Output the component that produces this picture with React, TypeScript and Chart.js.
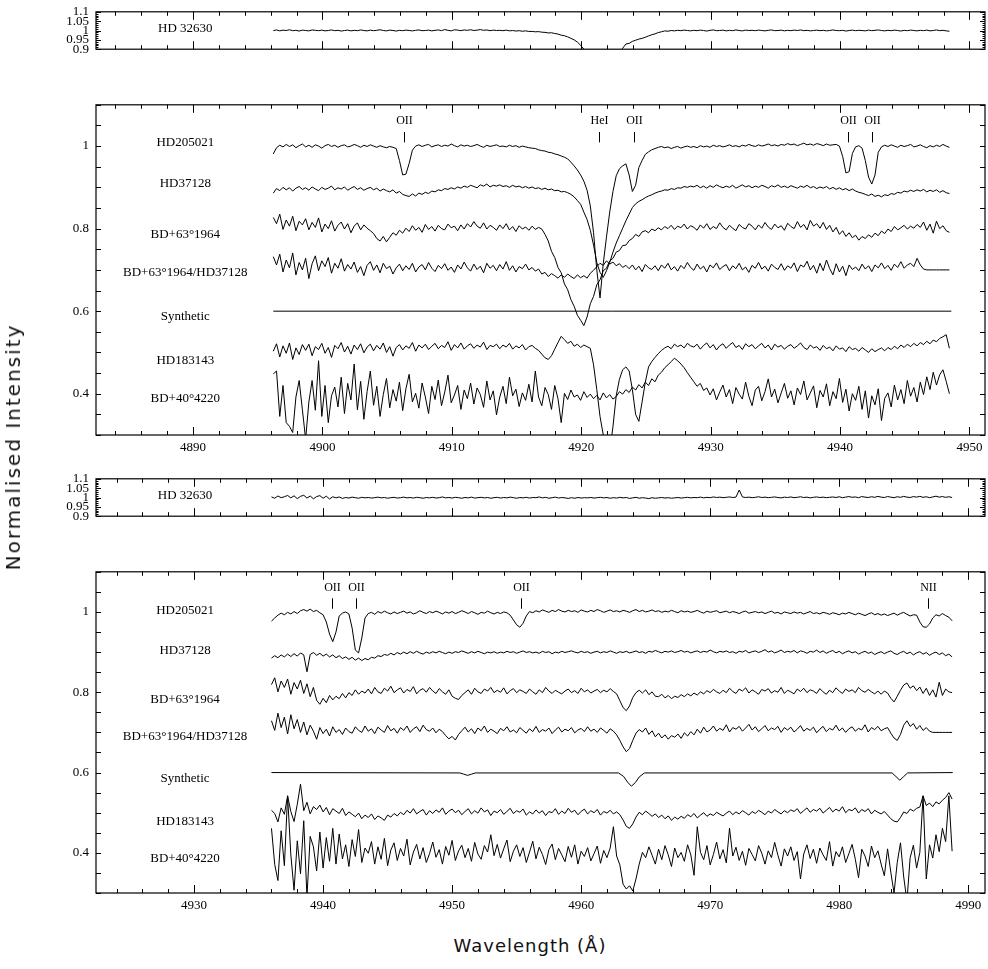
import React, { useEffect, useRef } from 'react';
import { Chart, registerables } from 'chart.js';

Chart.register(...registerables);

// ---------- wavelength grids (Å) ----------
const WL_A0 = 4896.2; // first sample of the upper pair of panels
const WL_B0 = 4936.0; // first sample of the lower pair of panels
const WL_STEP = 0.25;

// ---------- tick labels ----------
const Y_TICKS_SMALL = [0.9, 0.95, 1, 1.05, 1.1];
const Y_TICKS_BIG = [0.4, 0.6, 0.8, 1];
const X_TICKS_A = [4890, 4900, 4910, 4920, 4930, 4940, 4950];
const X_TICKS_B = [4930, 4940, 4950, 4960, 4970, 4980, 4990];

const STAR_NAMES = ['HD205021', 'HD37128', 'BD+63\u00b01964', 'BD+63\u00b01964/HD37128', 'Synthetic', 'HD183143', 'BD+40\u00b04220'];

// line identifications
const MARKS_A_WL = [4906.3, 4921.4, 4924.05, 4940.6, 4942.5];
const MARKS_A_TXT = ['OII', 'HeI', 'OII', 'OII', 'OII'];
const MARKS_B_WL = [4940.7, 4942.55, 4955.3, 4986.9];
const MARKS_B_TXT = ['OII', 'OII', 'OII', 'NII'];

// ---------- spectra (normalised intensity x1000, as plotted) ----------
const P1_HD32630 = [
  999, 1003, 998, 1002, 1000, 1004, 999, 1001, 997, 1002,
  1000, 998, 1003, 1001, 999, 1002, 998, 1000, 1003, 999,
  1001, 997, 1000, 1002, 998, 1001, 999, 1003, 1000, 998,
  1002, 999, 1001, 1004, 1000, 998, 1002, 1000, 997, 1001,
  999, 1002, 1000, 998, 1001, 1003, 999, 1000, 1002, 998,
  1001, 1003, 999, 1005, 1001, 998, 1004, 1002, 999, 1003,
  1001, 1004, 1000, 1002, 1005, 1001, 1003, 999, 1002, 1000,
  1001, 999, 1002, 998, 1000, 997, 999, 996, 998, 995,
  995, 993, 994, 991, 990, 987, 988, 984, 981, 975,
  972, 966, 958, 950, 938, 921, 900, 870, 840, 810,
  790, 780, 780, 790, 810, 830, 855, 882, 905, 928,
  931, 942, 948, 954, 958, 964, 971, 977, 982, 989,
  993, 998, 996, 1000, 998, 1001, 999, 1002, 1000, 998,
  1001, 999, 1002, 1000, 997, 1001, 1003, 999, 1000, 1002,
  998, 1001, 999, 1003, 1000, 998, 1002, 1000, 1001, 999,
  1002, 1000, 998, 1001, 1003, 999, 1000, 1002, 998, 1001,
  999, 1002, 1000, 1003, 999, 1001, 998, 1000, 1002, 999,
  1001, 998, 1000, 1003, 1000, 999, 1001, 997, 1000, 1002,
  999, 1001, 1000, 998, 1002, 999, 1001, 1003, 1000, 998,
  1001, 999, 1002, 1000, 997, 1001, 999, 1002, 1000, 998,
  1001, 999, 1002, 998, 1000, 1003, 999, 1001, 998, 996,
];

const P2_HD205021 = [
  981, 996, 1002, 998, 1004, 999, 1003, 996, 1001, 1005,
  998, 1002, 997, 1003, 1000, 995, 1001, 1004, 999, 1002,
  997, 1001, 1003, 998, 1000, 1004, 1001, 997, 1002, 999,
  1003, 1000, 997, 1001, 998, 996, 999, 997, 994, 965,
  930, 932, 958, 990, 1000, 1003, 999, 1002, 1004, 998,
  1001, 1003, 999, 1002, 1000, 1005, 1001, 998, 1003, 1000,
  1002, 999, 1001, 1004, 1000, 997, 1002, 999, 1001, 1003,
  999, 1000, 998, 1002, 999, 1001, 997, 1000, 998, 996,
  995, 994, 991, 989, 988, 985, 984, 981, 979, 976,
  973, 969, 961, 952, 942, 930, 915, 893, 855, 790,
  700, 632, 715, 780, 840, 890, 928, 945, 952, 957,
  930, 890, 905, 948, 965, 980, 986, 991, 994, 997,
  999, 996, 998, 994, 997, 999, 995, 998, 1000, 997,
  999, 996, 1001, 998, 1000, 997, 1002, 999, 1001, 998,
  1000, 1003, 999, 1001, 998, 1002, 1000, 1004, 1001, 999,
  1003, 1000, 1002, 1005, 1001, 1003, 1000, 1004, 1002, 1006,
  1003, 1005, 1001, 1004, 1007, 1003, 1005, 1002, 1006, 1004,
  1001, 1005, 1002, 1003, 1004, 1000, 975, 935, 938, 982,
  998, 1001, 995, 965, 925, 908, 930, 985, 998, 1002,
  999, 1003, 1000, 997, 1002, 999, 1001, 1004, 998, 1000,
  1003, 999, 996, 1001, 998, 1002, 999, 1004, 1000, 997,
];

const P2_HD37128 = [
  886, 897, 892, 900, 894, 899, 891, 898, 902, 895,
  899, 893, 901, 896, 892, 900, 895, 898, 903, 894,
  899, 896, 901, 893, 898, 902, 895, 899, 893, 897,
  900, 894, 898, 891, 896, 892, 889, 894, 886, 890,
  883, 880, 878, 884, 879, 886, 883, 888, 885, 891,
  889, 894, 892, 897, 895, 899, 896, 901, 898, 903,
  900, 905, 902, 899, 906, 903, 908, 901, 905, 903,
  906, 902, 904, 900, 905, 901, 903, 899, 902, 898,
  901, 897, 899, 895, 898, 894, 896, 892, 893, 889,
  890, 887, 883, 877, 868, 859, 840, 822, 796, 760,
  718, 694, 682, 698, 718, 743, 765, 783, 801, 819,
  835, 851, 860, 866, 870, 875, 879, 882, 886, 889,
  891, 894, 893, 897, 895, 899, 898, 902, 900, 903,
  901, 905, 899, 903, 898, 904, 900, 906, 902, 899,
  903, 900, 905, 898, 902, 906, 901, 904, 899, 903,
  900, 905, 902, 898, 904, 901, 906, 900, 903, 899,
  904, 901, 898, 903, 900, 905, 899, 902, 897, 901,
  898, 902, 896, 900, 895, 899, 894, 897, 892, 896,
  891, 888, 886, 883, 880, 884, 878, 881, 877, 882,
  880, 885, 883, 888, 886, 891, 889, 893, 890, 894,
  891, 895, 889, 893, 890, 894, 888, 892, 887, 885,
];

const P2_BD63 = [
  827, 812, 835, 798, 821, 806, 830, 795, 818, 809,
  824, 797, 815, 803, 826, 792, 811, 800, 819, 794,
  808, 816, 799, 812, 790, 806, 814, 797, 809, 801,
  795, 788, 776, 770, 781, 768, 779, 790, 784, 796,
  789, 801, 793, 807, 796, 803, 791, 810, 798, 805,
  794, 808, 800, 797, 811, 802, 806, 795, 809, 799,
  812, 804, 817, 806, 801, 814, 799, 808, 803, 796,
  809, 800, 812, 797, 805, 793, 807, 799, 804, 796,
  806, 798, 803, 799, 786, 770, 745, 730, 706, 693,
  666, 652, 628, 612, 590, 578, 565, 586, 618, 636,
  664, 676, 698, 704, 722, 728, 743, 747, 759, 760,
  771, 776, 786, 781, 792, 795, 790, 799, 795, 802,
  797, 805, 800, 808, 798, 806, 802, 811, 799, 807,
  803, 796, 809, 801, 812, 798, 805, 800, 814, 803,
  797, 808, 801, 795, 810, 803, 799, 812, 806, 797,
  809, 801, 815, 804, 798, 811, 802, 807, 796, 813,
  805, 800, 817, 803, 810, 797, 820, 806, 812, 801,
  815, 798, 808, 792, 803, 786, 795, 781, 790, 778,
  784, 772, 781, 776, 785, 779, 789, 783, 794, 788,
  799, 793, 805, 797, 802, 808, 799, 806, 801, 810,
  803, 816, 796, 811, 789, 818, 800, 807, 795, 791,
];

const P2_RATIO = [
  732, 712, 738, 695, 724, 705, 741, 688, 718, 700,
  728, 679, 715, 734, 698, 722, 708, 730, 692, 716,
  704, 727, 697, 713, 702, 719, 694, 708, 686, 711,
  720, 699, 712, 693, 716, 703, 709, 690, 705, 714,
  698, 710, 701, 716, 695, 707, 713, 700, 718, 704,
  696, 711, 703, 715, 699, 707, 694, 712, 702, 719,
  705, 697, 714, 701, 709, 693, 716, 704, 711, 698,
  713, 702, 720, 699, 710, 695, 708, 703, 714, 700,
  706, 697, 702, 690, 694, 684, 691, 686, 680, 688,
  682, 690, 684, 679, 688, 681, 686, 680, 692, 699,
  708, 716, 711, 722, 714, 719, 710, 715, 706, 711,
  703, 712, 700, 709, 696, 713, 705, 701, 710, 698,
  712, 704, 716, 700, 708, 697, 711, 703, 718, 706,
  699, 714, 702, 709, 695, 712, 705, 717, 701, 708,
  713, 698, 710, 703, 716, 700, 707, 694, 711, 704,
  718, 702, 709, 697, 714, 706, 701, 715, 699, 710,
  704, 717, 696, 712, 707, 721, 700, 711, 692, 716,
  698, 724, 703, 688, 715, 695, 709, 686, 712, 701,
  707, 698, 714, 702, 710, 696, 712, 705, 717, 703,
  711, 699, 714, 706, 720, 704, 712, 716, 708, 728,
  712, 702, 700, 700, 700, 700, 700, 700, 700, 700,
];

const P2_SYN_WL = [4896.2, 4948.6];
const P2_SYN = [600, 600];

const P2_HD183143 = [
  503, 521, 489, 516, 498, 523, 483, 511, 495, 519,
  505, 520, 492, 514, 507, 522, 498, 512, 488, 517,
  509, 524, 501, 515, 496, 518, 507, 521, 499, 513,
  520, 504, 517, 508, 523, 500, 514, 491, 512, 519,
  506, 516, 510, 524, 503, 518, 511, 520, 507, 515,
  522, 509, 517, 512, 526, 505, 519, 511, 523, 508,
  516, 521, 510, 518, 513, 525, 507, 517, 514, 520,
  509, 518, 513, 522, 508, 516, 511, 519, 506, 514,
  517, 510, 505, 496, 487, 483, 492, 508, 524, 539,
  531, 522, 527, 515, 520, 512, 518, 514, 510, 470,
  410, 345, 300, 268, 262, 320, 395, 435, 458, 465,
  455, 410, 350, 333, 380, 428, 465, 478, 488, 497,
  505, 511, 515, 509, 520, 514, 518, 511, 522, 516,
  513, 520, 508, 517, 523, 511, 519, 506, 516, 521,
  510, 518, 524, 512, 517, 507, 521, 514, 519, 509,
  516, 522, 511, 518, 506, 520, 513, 517, 508, 515,
  519, 510, 516, 523, 512, 507, 518, 511, 514, 505,
  517, 509, 513, 504, 516, 508, 511, 502, 514, 507,
  510, 503, 512, 506, 500, 509, 502, 507, 511, 504,
  512, 507, 515, 509, 518, 512, 520, 514, 522, 516,
  524, 519, 527, 521, 530, 526, 534, 538, 543, 510,
];

const P2_BD40 = [
  448, 455, 345, 420, 330, 321, 306, 392, 432, 361,
  290, 380, 432, 360, 480, 345, 420, 330, 395, 416,
  368, 440, 352, 425, 385, 472, 361, 430, 338, 405,
  455, 372, 418, 345, 398, 437, 366, 410, 382, 428,
  359, 412, 447, 380, 401, 365, 426, 392, 352, 418,
  386, 433, 371, 404, 445, 378, 397, 420, 362, 409,
  388, 426, 375, 414, 398, 367, 431, 385, 407, 349,
  392, 418, 376, 440, 395, 411, 369, 402, 384, 423,
  380, 455, 392, 371, 415, 398, 362, 420, 388, 330,
  401, 386, 409, 392, 397, 384, 405, 391, 399, 388,
  396, 385, 402, 390, 398, 387, 393, 405, 399, 410,
  403, 416, 409, 422, 414, 428, 420, 436, 429, 445,
  452, 463, 470, 478, 486, 480, 472, 463, 451, 440,
  429, 418, 425, 408, 414, 397, 412, 385, 404, 421,
  392, 410, 376, 415, 399, 387, 428, 394, 371, 409,
  418, 383, 405, 436, 392, 411, 378, 402, 425, 389,
  407, 373, 414, 398, 431, 385, 402, 419, 366, 408,
  392, 424, 371, 405, 388, 437, 379, 411, 358, 400,
  384, 418, 362, 407, 341, 395, 373, 412, 335, 389,
  402, 368, 421, 385, 410, 376, 432, 394, 415, 380,
  428, 398, 441, 410, 452, 421, 446, 458, 430, 400,
];

const P3_HD32630 = [
  1003, 996, 1008, 999, 1004, 1011, 998, 1009, 994, 1006,
  1012, 997, 1008, 993, 1005, 1010, 996, 1007, 992, 1004,
  998, 1003, 995, 1000, 997, 1002, 999, 996, 1001, 998,
  1000, 997, 999, 1002, 998, 1000, 996, 999, 1001, 997,
  999, 1002, 998, 1000, 997, 1001, 999, 996, 1000, 998,
  1001, 997, 999, 1003, 998, 1000, 997, 1001, 999, 996,
  1000, 998, 1002, 997, 999, 1001, 998, 1000, 996, 999,
  1001, 997, 1000, 998, 1002, 999, 996, 1000, 998, 1001,
  997, 1000, 999, 1003, 998, 1001, 996, 999, 1002, 997,
  1000, 998, 995, 999, 996, 1000, 997, 999, 998, 1000,
  997, 999, 1001, 998, 1000, 996, 999, 997, 1001, 998,
  1000, 995, 998, 1001, 996, 999, 997, 994, 999, 996,
  998, 1000, 997, 999, 996, 998, 1000, 997, 999, 1001,
  998, 1000, 999, 1002, 998, 1001, 999, 1003, 1000, 1002,
  999, 1001, 1003, 1000, 1002, 1040, 1003, 1000, 1002, 999,
  1001, 1004, 1000, 1002, 999, 1001, 1003, 1000, 998, 1002,
  1000, 1003, 999, 1001, 1004, 1000, 1002, 998, 1001, 1003,
  1000, 1002, 999, 1001, 1003, 1000, 1004, 999, 1002, 1005,
  1001, 1003, 999, 1005, 1002, 1000, 1004, 1001, 1006, 1002,
  1000, 1005, 1002, 999, 1004, 1001, 1006, 1002, 1000, 1005,
  1002, 1006, 1001, 1004, 999, 1003, 1007, 1002, 1005, 1001,
  1004, 1000,
];

const P4_HD205021 = [
  977, 985, 992, 997, 993, 999, 995, 1001, 996, 1003,
  1006, 1002, 1007, 1001, 1004, 998, 993, 975, 945, 926,
  950, 990, 997, 1000, 995, 960, 905, 898, 935, 985,
  996, 999, 994, 1001, 997, 1002, 998, 995, 1000, 996,
  999, 1002, 997, 1000, 995, 998, 1003, 999, 996, 1001,
  998, 1002, 999, 995, 1000, 997, 1001, 996, 999, 1003,
  1000, 996, 1001, 998, 994, 999, 997, 1002, 998, 995,
  999, 996, 1000, 998, 992, 980, 968, 962, 972, 990,
  1001, 998, 1003, 1000, 1005, 1002, 999, 1004, 1001, 1006,
  1002, 1000, 1004, 1001, 1003, 999, 1005, 1002, 1000, 1004,
  1001, 1006, 1003, 999, 1002, 1005, 1001, 1003, 1000, 1004,
  1002, 999, 1003, 1006, 1001, 1004, 1000, 1002, 1005, 1001,
  1003, 999, 1002, 1000, 1004, 1001, 998, 1003, 1000, 1002,
  999, 1001, 1004, 1000, 997, 1002, 999, 1001, 1003, 998,
  1000, 1002, 998, 1001, 999, 996, 1000, 1002, 997, 999,
  1001, 998, 1000, 996, 999, 1002, 997, 999, 995, 1000,
  998, 996, 1000, 997, 999, 995, 998, 1001, 996, 998,
  995, 999, 997, 994, 998, 996, 993, 997, 995, 999,
  996, 993, 997, 994, 991, 995, 998, 993, 996, 992,
  995, 991, 994, 997, 992, 996, 999, 994, 990, 993,
  992, 975, 963, 962, 970, 985, 993, 990, 996, 991,
  987, 978,
];

const P4_HD37128 = [
  885, 891, 886, 893, 888, 895, 889, 896, 890, 898,
  893, 851, 894, 899, 892, 897, 890, 895, 888, 893,
  886, 891, 884, 888, 882, 887, 880, 885, 879, 884,
  881, 887, 885, 891, 889, 894, 892, 897, 893, 899,
  895, 900, 896, 901, 897, 902, 898, 895, 900, 897,
  901, 898, 902, 899, 896, 900, 897, 901, 899, 903,
  900, 897, 901, 898, 902, 899, 896, 900, 898, 901,
  897, 900, 898, 902, 899, 901, 897, 900, 903, 899,
  901, 898, 900, 897, 902, 899, 901, 896, 900, 898,
  902, 899, 901, 903, 900, 898, 902, 899, 901, 897,
  900, 902, 898, 901, 899, 903, 900, 897, 901, 899,
  902, 898, 900, 903, 899, 901, 897, 902, 900, 904,
  901, 898, 902, 900, 903, 899, 901, 904, 900, 902,
  898, 901, 903, 899, 902, 900, 905, 901, 898, 902,
  900, 903, 899, 901, 897, 902, 900, 904, 898, 901,
  903, 899, 902, 906, 900, 903, 898, 901, 905, 899,
  902, 900, 904, 898, 903, 901, 897, 902, 900, 905,
  899, 903, 897, 901, 904, 898, 902, 896, 900, 903,
  898, 901, 895, 899, 902, 897, 900, 894, 898, 901,
  896, 900, 903, 897, 894, 899, 902, 896, 900, 893,
  898, 901, 895, 899, 892, 897, 900, 894, 898, 891,
  895, 888,
];

const P4_BD63 = [
  819, 836, 801, 828, 812, 833, 795, 824, 808, 830,
  797, 821, 789, 812, 780, 770, 785, 774, 792, 781,
  790, 784, 797, 786, 799, 792, 806, 795, 803, 798,
  808, 796, 812, 801, 797, 810, 803, 815, 799, 806,
  811, 798, 807, 802, 814, 796, 805, 809, 800, 812,
  803, 797, 809, 801, 795, 806, 790, 785, 782, 792,
  799, 806, 795, 810, 801, 797, 808, 803, 812, 799,
  805, 800, 811, 796, 804, 809, 799, 806, 802, 797,
  808, 801, 795, 806, 799, 812, 803, 797, 805, 800,
  796, 803, 808, 799, 804, 797, 810, 801, 806, 798,
  803, 807, 799, 805, 801, 809, 802, 796, 779, 762,
  754, 766, 787, 799, 805, 798, 806, 794, 801, 790,
  789, 795, 786, 792, 784, 790, 787, 794, 789, 796,
  791, 798, 793, 801, 796, 804, 799, 807, 801, 797,
  805, 799, 810, 802, 797, 808, 803, 811, 798, 806,
  801, 795, 807, 803, 809, 798, 804, 800, 812, 797,
  805, 801, 796, 808, 802, 810, 799, 806, 803, 797,
  809, 801, 795, 805, 799, 811, 803, 797, 808, 802,
  806, 799, 812, 804, 800, 807, 801, 796, 803, 795,
  803, 798, 785, 776, 790, 805, 818, 823, 810, 816,
  804, 813, 797, 810, 792, 806, 788, 825, 792, 808,
  801, 799,
];

const P4_RATIO = [
  729, 705, 748, 712, 738, 696, 744, 709, 732, 700,
  726, 694, 718, 703, 683, 712, 697, 708, 691, 714,
  700, 707, 695, 711, 702, 698, 714, 705, 700, 716,
  703, 709, 697, 713, 706, 700, 717, 704, 710, 698,
  712, 705, 716, 700, 709, 714, 702, 718, 707, 703,
  711, 699, 708, 702, 692, 684, 690, 681, 695, 704,
  713, 701, 709, 697, 711, 704, 716, 700, 708, 703,
  697, 710, 704, 714, 701, 706, 699, 712, 705, 698,
  709, 702, 715, 700, 707, 703, 711, 697, 706, 713,
  701, 708, 704, 712, 699, 706, 710, 702, 714, 703,
  708, 700, 711, 705, 698, 709, 703, 694, 680, 664,
  652, 660, 680, 698, 707, 701, 711, 695, 704, 689,
  698, 686, 694, 683, 692, 688, 696, 685, 699, 691,
  702, 694, 708, 698, 713, 701, 706, 716, 703, 710,
  705, 719, 701, 712, 708, 715, 703, 711, 720, 706,
  714, 702, 709, 717, 704, 711, 707, 715, 700, 712,
  706, 713, 701, 708, 717, 703, 710, 705, 713, 699,
  708, 715, 702, 710, 706, 718, 704, 711, 700, 709,
  714, 703, 710, 706, 719, 701, 712, 707, 715, 704,
  709, 712, 698, 686, 680, 695, 718, 729, 715, 722,
  708, 717, 705, 712, 703, 700, 700, 700, 700, 700,
  700, 700,
];

const P4_SYN_WL = [4936.0, 4950.6, 4950.9, 4951.2, 4951.5, 4951.8, 4962.9, 4963.3, 4963.6, 4963.9, 4964.2, 4964.5, 4964.9, 4984.1, 4984.4, 4984.7, 4985.0, 4985.3, 4988.8];
const P4_SYN = [600, 599, 596, 593, 596, 599, 599, 590, 576, 566, 575, 589, 599, 599, 590, 581, 590, 599, 600];

const P4_HD183143 = [
  506, 498, 477, 512, 496, 542, 503, 478, 521, 571,
  505, 526, 497, 515, 508, 519, 502, 513, 495, 510,
  504, 498, 511, 493, 502, 496, 490, 499, 485, 494,
  488, 497, 483, 492, 487, 481, 494, 489, 498, 492,
  501, 495, 506, 499, 510, 497, 503, 508, 494, 505,
  498, 507, 501, 512, 496, 504, 509, 500, 506, 495,
  503, 510, 497, 505, 499, 512, 502, 507, 493, 504,
  500, 508, 496, 503, 511, 498, 505, 501, 509, 494,
  502, 497, 507, 499, 505, 493, 503, 500, 510, 496,
  504, 498, 511, 501, 506, 495, 503, 509, 497, 505,
  500, 508, 494, 503, 499, 506, 497, 502, 495, 482,
  466, 461, 472, 489, 501, 495, 504, 498, 491, 497,
  488, 494, 485, 492, 481, 489, 484, 491, 486, 495,
  490, 498, 487, 494, 500, 491, 497, 493, 501, 496,
  492, 499, 504, 495, 502, 497, 505, 500, 494, 503,
  498, 506, 501, 495, 504, 499, 508, 502, 497, 505,
  500, 507, 503, 510, 498, 505, 512, 501, 508, 504,
  511, 499, 506, 513, 502, 509, 504, 515, 500, 508,
  505, 512, 499, 508, 503, 510, 497, 506, 501, 497,
  503, 494, 485, 479, 477, 488, 502, 498, 509, 504,
  511, 514, 542, 518, 524, 515, 527, 522, 531, 538,
  550, 534,
];

const P4_BD40 = [
  461, 371, 331, 455, 368, 542, 395, 307, 430, 348,
  480, 290, 441, 415, 355, 452, 362, 438, 379, 461,
  372, 447, 385, 420, 366, 433, 391, 458, 376, 412,
  399, 428, 372, 415, 384, 436, 368, 407, 425, 381,
  411, 392, 434, 370, 402, 421, 385, 413, 376, 398,
  427, 389, 408, 372, 416, 394, 431, 381, 405, 419,
  388, 411, 379, 426, 397, 384, 418, 402, 445, 393,
  421, 387, 410, 432, 378, 404, 420, 391, 413, 376,
  402, 429, 385, 414, 396, 371, 408, 422, 383, 411,
  395, 378, 416, 389, 420, 372, 404, 391, 413, 380,
  398, 417, 374, 406, 388, 412, 465, 392, 370, 322,
  310, 318, 305, 335, 372, 401, 388, 415, 394, 372,
  409, 383, 418, 395, 366, 412, 388, 401, 379, 420,
  395, 344, 465, 401, 383, 418, 370, 396, 427, 385,
  408, 375, 461, 392, 414, 381, 404, 369, 411, 396,
  380, 418, 399, 372, 405, 388, 426, 394, 367, 410,
  392, 415, 381, 403, 335, 397, 420, 386, 409, 374,
  412, 395, 381, 428, 367, 403, 390, 415, 376, 398,
  421, 384, 338, 409, 392, 366, 417, 388, 405, 372,
  343, 410, 352, 300, 376, 425, 340, 280, 388, 419,
  362, 401, 542, 335, 420, 387, 445, 403, 461, 428,
  542, 404,
];

// ---------- helpers ----------
const grid = (start: number, vals: number[]) => vals.map((v, i) => ({ x: start + i * WL_STEP, y: v / 1000 }));
const zip = (wl: number[], vals: number[]) => wl.map((w, i) => ({ x: w, y: vals[i] / 1000 }));
const fmt = (v: number) => String(parseFloat(Number(v).toFixed(2)));

const TICK_FONT = { family: '"Liberation Serif", "Times New Roman", serif', size: 13 };
const LABEL_FONT = '13px "Liberation Serif", "Times New Roman", serif';
const MARK_FONT = '12px "Liberation Serif", "Times New Roman", serif';
const PAD_TOP = 8;
const CANVAS_W = 988;
const Y_AXIS_W = 96;
const PAD_RIGHT = 3;

type Spec = {
  top: number; bottom: number; axisH: number;
  xMin: number; xMax: number; yMin: number; yMax: number;
  xTicks: number[] | null; yTicks: number[];
  yMinor: number; yMajor: number; yMinorLen: number; yMajorLen: number;
  series: { x: number; y: number }[][];
  names: string[]; nameX: number; nameY: number[];
  marksWl: number[]; marksTxt: string[]; markTextY: number; markTop: number; markBottom: number;
};

const PANELS: Spec[] = [
  {
    top: 5, bottom: 62, axisH: 2,
    xMin: 4882.5, xMax: 4951.2, yMin: 0.9, yMax: 1.1,
    xTicks: null, yTicks: Y_TICKS_SMALL,
    yMinor: 0.01, yMajor: 0.05, yMinorLen: 2.5, yMajorLen: 5,
    series: [grid(WL_A0, P1_HD32630)],
    names: ['HD 32630'], nameX: 4889.4, nameY: [1.01],
    marksWl: [], marksTxt: [], markTextY: 0, markTop: 0, markBottom: 0,
  },
  {
    top: 98, bottom: 435, axisH: 26,
    xMin: 4882.5, xMax: 4951.2, yMin: 0.3, yMax: 1.1,
    xTicks: X_TICKS_A, yTicks: Y_TICKS_BIG,
    yMinor: 0.05, yMajor: 0.05, yMinorLen: 5, yMajorLen: 5,
    series: [
      grid(WL_A0, P2_HD205021), grid(WL_A0, P2_HD37128), grid(WL_A0, P2_BD63), grid(WL_A0, P2_RATIO),
      zip(P2_SYN_WL, P2_SYN), grid(WL_A0, P2_HD183143), grid(WL_A0, P2_BD40),
    ],
    names: STAR_NAMES, nameX: 4889.4, nameY: [1.0085, 0.908, 0.786, 0.694, 0.588, 0.481, 0.389],
    marksWl: MARKS_A_WL, marksTxt: MARKS_A_TXT, markTextY: 1.06, markTop: 1.034, markBottom: 1.009,
  },
  {
    top: 472, bottom: 529, axisH: 2,
    xMin: 4922.4, xMax: 4991.3, yMin: 0.9, yMax: 1.1,
    xTicks: null, yTicks: Y_TICKS_SMALL,
    yMinor: 0.01, yMajor: 0.05, yMinorLen: 2.5, yMajorLen: 5,
    series: [grid(WL_B0, P3_HD32630)],
    names: ['HD 32630'], nameX: 4929.3, nameY: [1.011],
    marksWl: [], marksTxt: [], markTextY: 0, markTop: 0, markBottom: 0,
  },
  {
    top: 565, bottom: 893, axisH: 26,
    xMin: 4922.4, xMax: 4991.3, yMin: 0.3, yMax: 1.1,
    xTicks: X_TICKS_B, yTicks: Y_TICKS_BIG,
    yMinor: 0.05, yMajor: 0.05, yMinorLen: 5, yMajorLen: 5,
    series: [
      grid(WL_B0, P4_HD205021), grid(WL_B0, P4_HD37128), grid(WL_B0, P4_BD63), grid(WL_B0, P4_RATIO),
      zip(P4_SYN_WL, P4_SYN), grid(WL_B0, P4_HD183143), grid(WL_B0, P4_BD40),
    ],
    names: STAR_NAMES, nameX: 4929.3, nameY: [1.004, 0.904, 0.782, 0.690, 0.584, 0.479, 0.386],
    marksWl: MARKS_B_WL, marksTxt: MARKS_B_TXT, markTextY: 1.061, markTop: 1.034, markBottom: 1.008,
  },
];

function makeDecor(spec: Spec) {
  return {
    id: 'decor',
    afterDraw(chart: any) {
      const { ctx, chartArea: a, scales } = chart;
      const xs = scales.x, ys = scales.y;
      ctx.save();
      ctx.strokeStyle = '#000';
      ctx.lineWidth = 1.2;
      ctx.strokeRect(a.left, a.top, a.right - a.left, a.bottom - a.top);
      ctx.lineWidth = 1;
      ctx.beginPath();
      for (let v = Math.ceil(spec.xMin / 2) * 2; v <= spec.xMax; v += 2) {
        const px = Math.round(xs.getPixelForValue(v)) + 0.5;
        const len = v % 10 === 0 ? 8 : 4;
        ctx.moveTo(px, a.bottom); ctx.lineTo(px, a.bottom - len);
        ctx.moveTo(px, a.top); ctx.lineTo(px, a.top + len);
      }
      const n = Math.round((spec.yMax - spec.yMin) / spec.yMinor);
      for (let k = 0; k <= n; k++) {
        const v = spec.yMin + k * spec.yMinor;
        const r = v / spec.yMajor;
        const major = Math.abs(r - Math.round(r)) < 1e-6;
        const len = major ? spec.yMajorLen : spec.yMinorLen;
        const py = Math.round(ys.getPixelForValue(v)) + 0.5;
        ctx.moveTo(a.left, py); ctx.lineTo(a.left + len, py);
        ctx.moveTo(a.right, py); ctx.lineTo(a.right - len, py);
      }
      ctx.stroke();

      ctx.fillStyle = '#000';
      ctx.textAlign = 'center';
      ctx.textBaseline = 'middle';
      ctx.font = LABEL_FONT;
      spec.names.forEach((t, i) => {
        ctx.fillText(t, xs.getPixelForValue(spec.nameX), ys.getPixelForValue(spec.nameY[i]));
      });
      ctx.font = MARK_FONT;
      ctx.beginPath();
      spec.marksWl.forEach((w, i) => {
        const px = Math.round(xs.getPixelForValue(w)) + 0.5;
        ctx.fillText(spec.marksTxt[i], px, ys.getPixelForValue(spec.markTextY));
        ctx.moveTo(px, ys.getPixelForValue(spec.markTop));
        ctx.lineTo(px, ys.getPixelForValue(spec.markBottom));
      });
      ctx.stroke();
      ctx.restore();
    },
  };
}

function Panel({ spec }: { spec: Spec }) {
  const ref = useRef<HTMLCanvasElement | null>(null);
  const h = spec.bottom - spec.top + PAD_TOP + spec.axisH;
  useEffect(() => {
    if (!ref.current) return;
    const chart = new Chart(ref.current, {
      type: 'line',
      data: {
        datasets: spec.series.map((s) => ({
          data: s,
          borderColor: '#000',
          borderWidth: 1,
          pointRadius: 0,
          tension: 0,
          fill: false,
        })),
      },
      options: {
        animation: false,
        responsive: false,
        maintainAspectRatio: false,
        parsing: false,
        normalized: true,
        events: [],
        layout: { padding: { left: 0, right: PAD_RIGHT, top: PAD_TOP, bottom: 0 } },
        plugins: { legend: { display: false }, tooltip: { enabled: false } },
        scales: {
          x: {
            type: 'linear',
            min: spec.xMin,
            max: spec.xMax,
            grid: { display: false, drawTicks: false },
            border: { display: false },
            afterBuildTicks: (s: any) => { s.ticks = (spec.xTicks || []).map((v) => ({ value: v })); },
            afterFit: (s: any) => { s.height = spec.axisH; },
            ticks: {
              display: !!spec.xTicks,
              autoSkip: false,
              maxRotation: 0,
              padding: 5,
              color: '#000',
              font: TICK_FONT,
              callback: (v: any) => String(v),
            },
          },
          y: {
            type: 'linear',
            min: spec.yMin,
            max: spec.yMax,
            grid: { display: false, drawTicks: false },
            border: { display: false },
            afterBuildTicks: (s: any) => { s.ticks = spec.yTicks.map((v) => ({ value: v })); },
            afterFit: (s: any) => { s.width = Y_AXIS_W; },
            ticks: {
              autoSkip: false,
              padding: 7,
              color: '#000',
              font: TICK_FONT,
              callback: (v: any) => fmt(v),
            },
          },
        },
      } as any,
      plugins: [makeDecor(spec)],
    });
    return () => chart.destroy();
  }, [spec]);
  return (
    <canvas
      ref={ref}
      width={CANVAS_W}
      height={h}
      style={{ position: 'absolute', left: 0, top: spec.top - PAD_TOP, width: CANVAS_W, height: h }}
    />
  );
}

export default function App() {
  return (
    <div style={{ position: 'absolute', left: 0, top: 0, width: 988, height: 969, background: '#fff', overflow: 'hidden' }}>
      {PANELS.map((p, i) => <Panel key={i} spec={p} />)}
      <div
        style={{
          position: 'absolute', left: 13, top: 447,
          transform: 'translate(-50%, -50%) rotate(-90deg)',
          whiteSpace: 'nowrap',
          font: '20px "DejaVu Sans", sans-serif',
          letterSpacing: '2px',
          color: '#111',
        }}
      >
        Normalised Intensity
      </div>
      <div
        style={{
          position: 'absolute', left: 530, top: 945,
          transform: 'translate(-50%, -50%)',
          whiteSpace: 'nowrap',
          font: '18px "DejaVu Sans", sans-serif',
          letterSpacing: '1px',
          color: '#111',
        }}
      >
        Wavelength (Å)
      </div>
    </div>
  );
}
